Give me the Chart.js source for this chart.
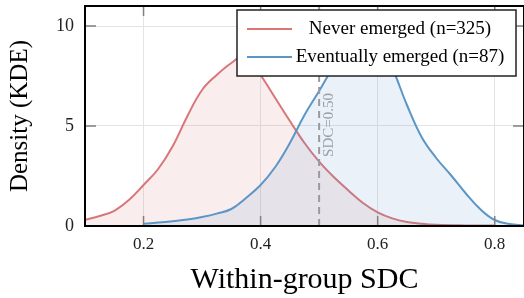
<!DOCTYPE html>
<html>
<head>
<meta charset="utf-8">
<script src="https://cdn.jsdelivr.net/npm/chart.js@4.4.1/dist/chart.umd.min.js"></script>
<style>
  html, body { margin: 0; padding: 0; background: #fff; }
  #wrap { width: 524px; height: 298px; }
</style>
</head>
<body>
<div id="wrap"><canvas id="kdeChart" width="524" height="298"></canvas></div>
<script>
// ---- data ----
const neverX = [0.100, 0.125, 0.150, 0.175, 0.200, 0.225, 0.250, 0.275, 0.300, 0.325, 0.350, 0.375,
                0.400, 0.425, 0.450, 0.475, 0.500, 0.525, 0.550, 0.575, 0.600, 0.625, 0.650, 0.675,
                0.700, 0.750, 0.800];
const neverY = [0.31, 0.50, 0.76, 1.30, 2.05, 2.85, 4.00, 5.50, 6.80, 7.55, 8.15, 8.55,
                7.55, 6.40, 5.25, 4.15, 3.22, 2.45, 1.78, 1.15, 0.68, 0.38, 0.20, 0.11,
                0.06, 0.03, 0.02];

const emergedX = [0.200, 0.225, 0.250, 0.275, 0.300, 0.325, 0.350, 0.375, 0.400, 0.425, 0.450, 0.475,
                  0.500, 0.525, 0.550, 0.575, 0.600, 0.625, 0.650, 0.675, 0.700, 0.725, 0.750, 0.775,
                  0.800, 0.825, 0.850];
const emergedY = [0.11, 0.17, 0.24, 0.32, 0.45, 0.62, 0.85, 1.40, 2.05, 2.95, 4.15, 5.55,
                  6.75, 8.00, 9.05, 9.55, 9.30, 7.90, 6.05, 4.45, 3.40, 2.55, 1.65, 0.85,
                  0.30, 0.10, 0.03];

const seriesLabels = ['Never emerged (n=325)', 'Eventually emerged (n=87)'];
const xTicks = [0.2, 0.4, 0.6, 0.8];
const yTicks = [0, 5, 10];
const threshold = 0.5;
const thresholdLabel = 'SDC=0.50';

const SERIF = "'Liberation Serif', 'DejaVu Serif', serif";
const RED = 'rgb(217, 118, 120)';
const BLUE = 'rgb(92, 150, 198)';

function toPoints(xs, ys) {
    return xs.map((x, i) => ({ x: x, y: ys[i] }));
}

// threshold line + its rotated label
const thresholdPlugin = {
    id: 'threshold',
    afterDatasetsDraw(chart) {
        const { ctx, chartArea, scales } = chart;
        const px = scales.x.getPixelForValue(threshold);
        ctx.save();
        ctx.strokeStyle = '#9a9a9a';
        ctx.lineWidth = 2;
        ctx.setLineDash([7, 5]);
        ctx.beginPath();
        ctx.moveTo(px, chartArea.bottom);
        ctx.lineTo(px, chartArea.top);
        ctx.stroke();
        ctx.setLineDash([]);
        ctx.translate(px + 10, scales.y.getPixelForValue(5.05));
        ctx.rotate(-Math.PI / 2);
        ctx.fillStyle = 'rgba(150, 150, 150, 0.9)';
        ctx.font = '15px ' + SERIF;
        ctx.textAlign = 'center';
        ctx.textBaseline = 'middle';
        ctx.fillText(thresholdLabel, 0, 0);
        ctx.restore();
    }
};

// frame, inward ticks and the boxed legend
const framePlugin = {
    id: 'frame',
    afterDraw(chart) {
        const { ctx, chartArea, scales } = chart;
        const { left, right, top, bottom } = chartArea;
        ctx.save();

        // inward tick marks
        ctx.strokeStyle = '#808080';
        ctx.lineWidth = 1.5;
        ctx.beginPath();
        xTicks.forEach(v => {
            const px = scales.x.getPixelForValue(v);
            ctx.moveTo(px, top); ctx.lineTo(px, top + 10);
            ctx.moveTo(px, bottom); ctx.lineTo(px, bottom - 10);
        });
        yTicks.forEach(v => {
            const py = scales.y.getPixelForValue(v);
            ctx.moveTo(left, py); ctx.lineTo(left + 11, py);
            ctx.moveTo(right, py); ctx.lineTo(right - 11, py);
        });
        ctx.stroke();

        // frame
        ctx.strokeStyle = '#000';
        ctx.lineWidth = 2;
        ctx.strokeRect(left, top, right - left, bottom - top);

        // legend
        const bx = right - 287, by = top + 4, bw = 279, bh = 66;
        ctx.fillStyle = '#fff';
        ctx.fillRect(bx, by, bw, bh);
        ctx.strokeStyle = '#222';
        ctx.lineWidth = 1.5;
        ctx.strokeRect(bx, by, bw, bh);

        const colors = [RED, BLUE];
        ctx.font = '19px ' + SERIF;
        ctx.textAlign = 'center';
        ctx.textBaseline = 'middle';
        seriesLabels.forEach((label, i) => {
            const cy = by + 19 + i * 28;
            ctx.strokeStyle = colors[i];
            ctx.lineWidth = 2;
            ctx.beginPath();
            ctx.moveTo(bx + 10, cy);
            ctx.lineTo(bx + 55, cy);
            ctx.stroke();
            ctx.fillStyle = '#000';
            ctx.fillText(label, bx + 163, cy);
        });
        ctx.restore();
    }
};

const ctx = document.getElementById('kdeChart');
new Chart(ctx, {
    type: 'line',
    data: {
        datasets: [
            {
                label: seriesLabels[0],
                data: toPoints(neverX, neverY),
                borderColor: RED,
                backgroundColor: 'rgba(217, 118, 120, 0.13)',
                borderWidth: 2,
                fill: 'origin',
                pointRadius: 0,
                tension: 0.4,
                order: 2
            },
            {
                label: seriesLabels[1],
                data: toPoints(emergedX, emergedY),
                borderColor: BLUE,
                backgroundColor: 'rgba(92, 150, 198, 0.13)',
                borderWidth: 2,
                fill: 'origin',
                pointRadius: 0,
                tension: 0.4,
                order: 1
            }
        ]
    },
    options: {
        responsive: false,
        animation: false,
        devicePixelRatio: 1,
        layout: { padding: { top: 6, right: 0, left: 0, bottom: 0 } },
        plugins: {
            legend: { display: false },
            tooltip: { enabled: false }
        },
        scales: {
            x: {
                type: 'linear',
                min: 0.1,
                max: 0.85,
                afterFit: s => { s.height = 72; s.paddingLeft = 0; s.paddingRight = 0; },
                afterBuildTicks: s => { s.ticks = xTicks.map(v => ({ value: v })); },
                grid: { color: '#e4e4e4', drawTicks: false },
                border: { display: false },
                ticks: {
                    callback: v => v.toFixed(1),
                    font: { family: SERIF, size: 17 },
                    color: '#222',
                    padding: 8,
                    maxRotation: 0
                },
                title: {
                    display: true,
                    text: 'Within-group SDC',
                    font: { family: SERIF, size: 30 },
                    color: '#000',
                    padding: { top: 0, bottom: 0 }
                }
            },
            y: {
                min: 0,
                max: 11,
                afterFit: s => { s.width = 85; s.paddingTop = 0; s.paddingBottom = 0; },
                afterBuildTicks: s => { s.ticks = yTicks.map(v => ({ value: v })); },
                grid: { color: '#e4e4e4', drawTicks: false },
                border: { display: false },
                ticks: {
                    font: { family: SERIF, size: 18 },
                    color: '#222',
                    padding: 11
                },
                title: {
                    display: true,
                    text: 'Density (KDE)',
                    font: { family: SERIF, size: 25 },
                    color: '#000',
                    padding: { top: 5, bottom: 0 }
                }
            }
        }
    },
    plugins: [thresholdPlugin, framePlugin]
});
</script>
</body>
</html>
